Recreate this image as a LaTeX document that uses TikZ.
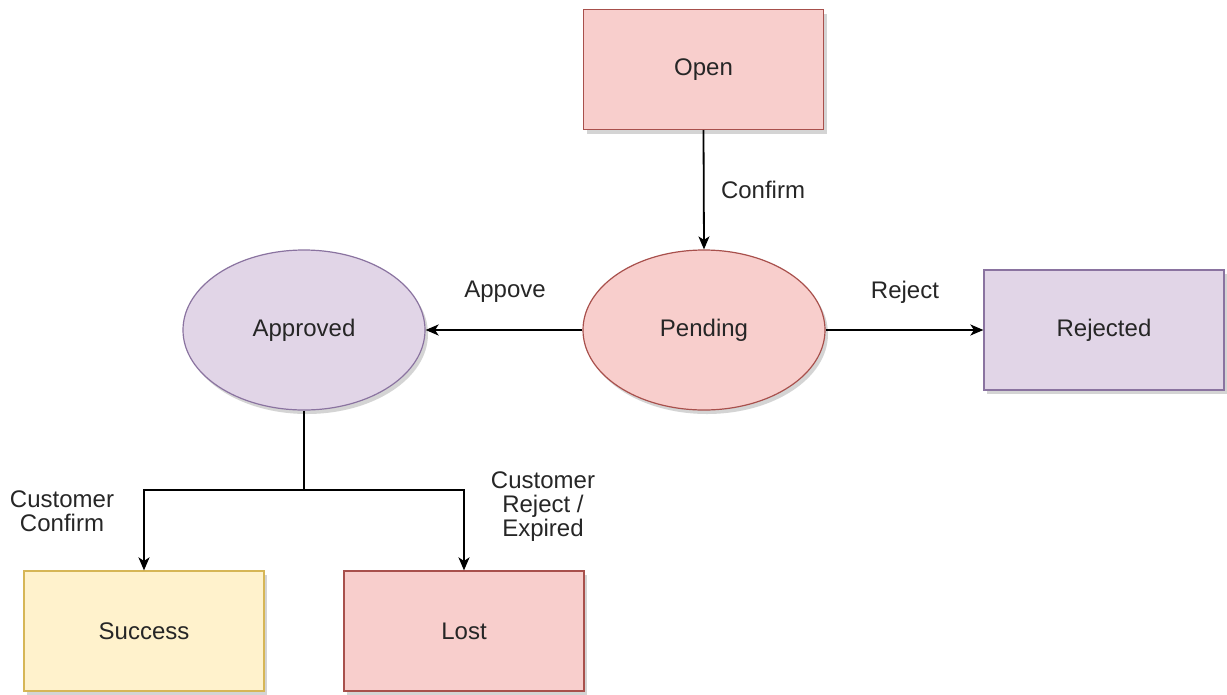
\documentclass[tikz,border=0pt]{standalone}
\usepackage{fontspec}
\setmainfont{Liberation Sans}
\usetikzlibrary{shapes.geometric,arrows.meta,shadows}
\definecolor{redfill}{HTML}{F8CECC}
\definecolor{redline}{HTML}{A8504C}
\definecolor{purfill}{HTML}{E1D5E7}
\definecolor{purline}{HTML}{8A73A0}
\definecolor{yelfill}{HTML}{FFF2CC}
\definecolor{yelline}{HTML}{D6B656}
\definecolor{txt}{HTML}{262626}
\tikzset{
  shad/.style={drop shadow={shadow xshift=3pt,shadow yshift=-4pt,opacity=0.28,fill=black!60}},
  box/.style={rectangle,minimum width=240pt,minimum height=120pt,inner sep=0pt,line width=1.2pt,shad,text=txt,font=\fontsize{24}{25}\selectfont},
  oval/.style={ellipse,minimum width=242pt,minimum height=160pt,inner sep=0pt,line width=1.2pt,shad,text=txt,font=\fontsize{24}{25}\selectfont},
  redbox/.style={fill=redfill,draw=redline},
  purbox/.style={fill=purfill,draw=purline},
  yelbox/.style={fill=yelfill,draw=yelline},
  conn/.style={line width=1.8pt,-{Stealth[length=13pt,width=11pt,inset=3.5pt]}},
  lbl/.style={text=txt,font=\fontsize{24}{24}\selectfont,align=center,inner sep=0pt}
}
\begin{document}
\begin{tikzpicture}[x=1pt,y=-1pt]
\useasboundingbox (0,0) rectangle (1227,694);
\node[box,redbox] (open) at (703.5,69.5) {Open};
\node[oval,redbox] (pending) at (704,330) {Pending};
\node[oval,purbox] (approved) at (304,330) {Approved};
\node[box,purbox] (rejected) at (1104,330) {Rejected};
\node[box,yelbox] (success) at (144,631) {Success};
\node[box,redbox] (lost) at (464,631) {Lost};
\coordinate (junc) at (304,490);
\draw[conn] (open.south) -- (pending.north);
\draw[conn] (pending.west) -- (approved.east);
\draw[conn] (pending.east) -- (rejected.west);
\draw[line width=1.8pt] (approved.south) -- (junc);
\draw[conn] (junc) -| (success.north);
\draw[conn] (junc) -| (lost.north);
\node[lbl] (lconfirm) at (763,190) {Confirm};
\node[lbl] (lappove) at (505,292) {Appove};
\node[lbl] (lreject) at (905,292) {Reject};
\node[lbl] (lcc) at (62,511) {Customer\\Confirm};
\node[lbl] (lcr) at (543,507) {Customer\\Reject /\\Expired};
\end{tikzpicture}
\end{document}
